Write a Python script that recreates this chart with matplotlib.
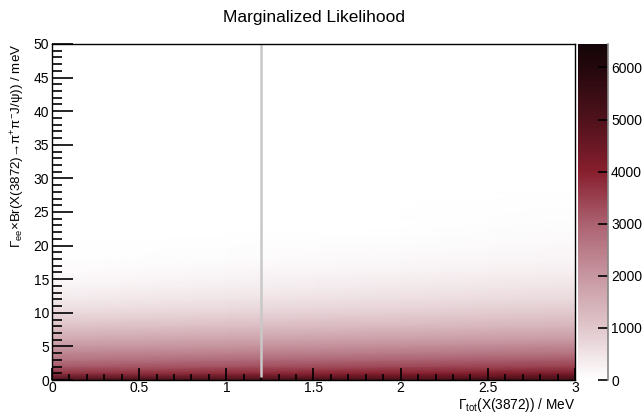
import numpy as np
import matplotlib
matplotlib.use("Agg")
import matplotlib.pyplot as plt
from matplotlib.colors import LinearSegmentedColormap, Normalize

plt.rcParams["font.family"] = ["Liberation Sans", "DejaVu Sans"]
plt.rcParams["mathtext.fontset"] = "custom"
plt.rcParams["mathtext.rm"] = "Liberation Sans"
plt.rcParams["mathtext.it"] = "Liberation Sans:italic"
plt.rcParams["mathtext.bf"] = "Liberation Sans:bold"

# Grid nodes of the marginalized likelihood
gamma_tot = [0.0, 1.0, 2.0, 3.0]  # MeV
gamma_ee_br = [0, 1, 2, 3, 4, 5, 6, 8, 10, 12, 14, 16, 18, 20, 23, 26, 30, 35, 50]  # meV

# Likelihood values along Gamma_ee*Br, one list per Gamma_tot node
like_x0 = [5200, 3700, 3100, 2650, 2300, 1950, 1650, 1100, 680, 400, 210, 90, 30, 8, 1, 0, 0, 0, 0]
like_x1 = [5250, 3850, 3250, 2800, 2400, 2050, 1750, 1200, 780, 500, 300, 160, 75, 30, 6, 1, 0, 0, 0]
like_x2 = [5300, 4000, 3400, 2950, 2520, 2180, 1850, 1300, 880, 600, 390, 240, 140, 75, 25, 7, 1, 0, 0]
like_x3 = [5400, 4200, 3500, 3100, 2650, 2300, 1950, 1400, 1000, 700, 480, 320, 210, 140, 75, 40, 12, 0, 0]

z_max = 6450
best_gamma_tot = 1.2
x_ticks = [0, 0.5, 1, 1.5, 2, 2.5, 3]
y_ticks = [0, 5, 10, 15, 20, 25, 30, 35, 40, 45, 50]
z_ticks = [0, 1000, 2000, 3000, 4000, 5000, 6000]

# White -> rose -> deep red -> black palette
palette = LinearSegmentedColormap.from_list("cherry_inv", [
    (0.000, (1.00, 1.00, 1.00)),
    (0.155, (0.88, 0.78, 0.80)),
    (0.310, (0.78, 0.59, 0.63)),
    (0.466, (0.67, 0.38, 0.44)),
    (0.620, (0.53, 0.12, 0.18)),
    (0.776, (0.31, 0.07, 0.11)),
    (0.930, (0.14, 0.03, 0.05)),
    (1.000, (0.08, 0.02, 0.03)),
])

fig = plt.figure(figsize=(6.44, 4.13), dpi=100)
ax = fig.add_axes([0.0807, 0.0799, 0.8122, 0.8136])
cax = fig.add_axes([0.8975, 0.0799, 0.0470, 0.8136])

Z = np.array([like_x0, like_x1, like_x2, like_x3]).T
X, Y = np.meshgrid(gamma_tot, gamma_ee_br)
norm = Normalize(vmin=0, vmax=z_max)
mesh = ax.pcolormesh(X, Y, Z, cmap=palette, norm=norm, shading="gouraud",
                     rasterized=True)

ax.plot([best_gamma_tot, best_gamma_tot], [0.5, 50], color="#c8c8c8", lw=1.8,
        solid_capstyle="butt", zorder=3)

ax.set_xlim(0, 3)
ax.set_ylim(0, 50)
ax.set_xticks(x_ticks)
ax.set_xticklabels(["0", "0.5", "1", "1.5", "2", "2.5", "3"])
ax.set_yticks(y_ticks)
ax.set_xticks(np.arange(0, 3.0001, 0.1), minor=True)
ax.set_yticks(np.arange(0, 50.0001, 1), minor=True)
ax.tick_params(axis="x", which="major", direction="in", length=9, width=1.2,
               labelsize=10, pad=1, top=False)
ax.tick_params(axis="x", which="minor", direction="in", length=4.5, width=1.2,
               top=False)
ax.tick_params(axis="y", which="major", direction="in", length=15, width=1.2,
               labelsize=10, pad=2, right=False)
ax.tick_params(axis="y", which="minor", direction="in", length=7.5, width=1.2,
               right=False)
for s in ax.spines.values():
    s.set_linewidth(1.0)
    s.set_zorder(5)

fig.text(0.893, 0.0105, r"$\Gamma_{\rm tot}$(X(3872)) / MeV", fontsize=9.8,
         ha="right", va="baseline")
ax.set_ylabel(r"$\Gamma_{\rm ee}$×Br(X(3872)→π$^{+}$π$^{-}$J/ψ)) / meV",
              fontsize=9.6, loc="top", labelpad=5)

fig.suptitle("Marginalized Likelihood", x=0.488, y=0.975, fontsize=12.5,
             va="top")

cb = fig.colorbar(mesh, cax=cax)
cb.outline.set_visible(False)
cb.set_ticks(z_ticks)
cax.yaxis.set_ticks_position("right")
cax.tick_params(axis="y", direction="in", length=7, width=1.2, color="black",
                labelsize=10, pad=2)
cax.minorticks_off()
cax.spines["right"].set_visible(True)
cax.spines["right"].set_color("#888888")
cax.spines["right"].set_linewidth(1.2)

fig.savefig("out.png", dpi=100)
